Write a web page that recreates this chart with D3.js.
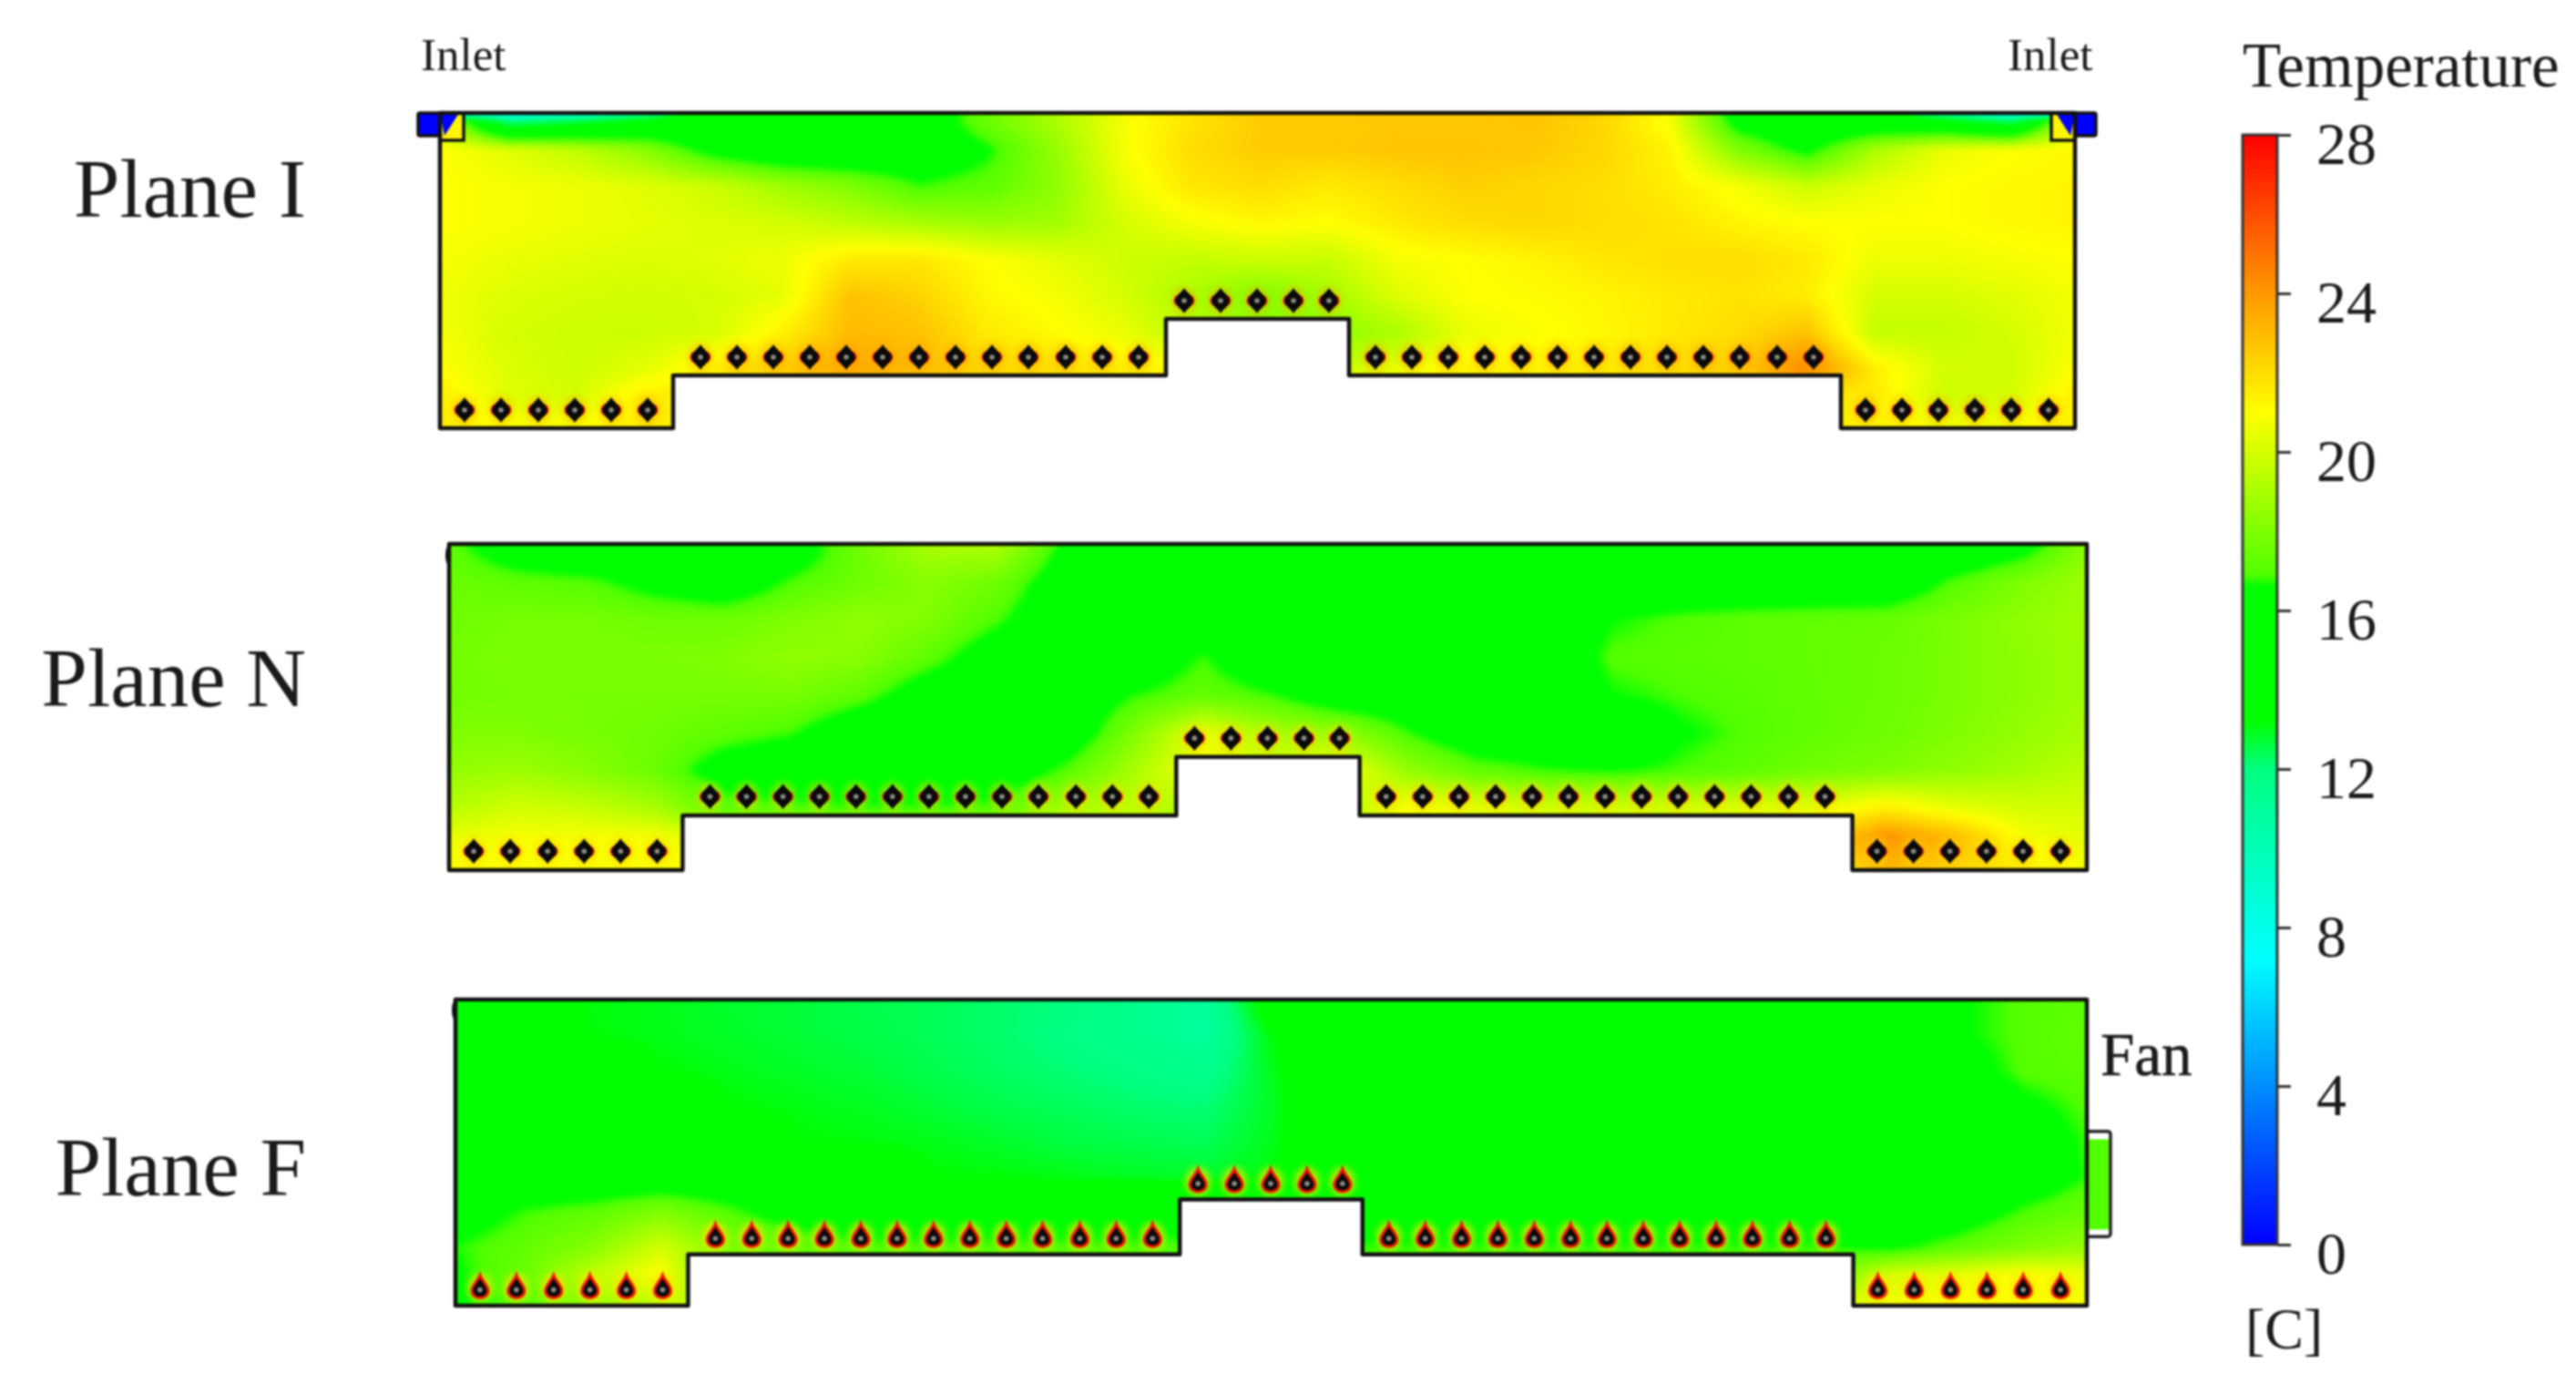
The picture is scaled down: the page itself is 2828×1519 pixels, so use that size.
<!DOCTYPE html>
<html>
<head>
<meta charset="utf-8">
<script src="https://d3js.org/d3.v7.min.js"></script>
<style>
  html, body { margin: 0; background: #fff; }
  #wrap { position: relative; width: 2828px; height: 1519px; overflow: hidden; }
  canvas, svg { position: absolute; left: 0; top: 0; }
  svg { filter: blur(0.8px); }
  text { font-family: "Liberation Serif", serif; fill: #1a1a1a; }
</style>
</head>
<body>
<div id="wrap">
  <canvas id="field" width="2828" height="1519"></canvas>
  <svg id="chart" width="2828" height="1519"></svg>
</div>
<script>
;(function (d3) {
  var planeLabels = ['Plane I', 'Plane N', 'Plane F']
  var colourTitle = 'Temperature'
  var colourUnit = '[C]'
  var colourTicks = [0, 4, 8, 12, 16, 20, 24, 28]

  // room section in metres, y measured down from the ceiling
  var roomWidth = 17.95
  var roomHeight = 3.46
  var outlineX = [0, 0, 2.56, 2.56, 7.97, 7.97, 9.98, 9.98, 15.38, 15.38, 17.95, 17.95]
  var outlineY = [0, 3.46, 3.46, 2.88, 2.88, 2.26, 2.26, 2.88, 2.88, 3.46, 3.46, 0]

  var tubesLowLeft = [0.27, 0.67, 1.08, 1.48, 1.88, 2.28]
  var tubesMidLeft = [2.86, 3.26, 3.66, 4.06, 4.46, 4.86, 5.26, 5.66, 6.06, 6.46, 6.87, 7.27, 7.67]
  var tubesRaised = [8.17, 8.57, 8.97, 9.37, 9.76]
  var tubesMidRight = [10.27, 10.67, 11.07, 11.47, 11.87, 12.27, 12.67, 13.07, 13.47, 13.87, 14.27, 14.68, 15.08]
  var tubesLowRight = [15.65, 16.05, 16.45, 16.85, 17.25, 17.66]
  var tubeDepths = [3.26, 2.68, 2.06, 2.68, 3.26]

  // sample positions of the temperature grids
  var gridX = [0, 0.75, 1.5, 2.25, 3, 3.75, 4.5, 5.25, 6, 6.75, 7.5, 8.25, 9, 9.75, 10.5, 11.25, 12, 12.75, 13.5, 14.25, 15, 15.75, 16.5, 17.25, 18]
  var gridY = [0, 0.1, 0.4, 0.8, 1.2, 1.6, 2, 2.4, 2.8, 3.1, 3.46]

  var tempsI = [
    [9, 8, 9, 11, 15, 15, 15, 15.5, 17.5, 19, 20.8, 21.8, 22.5, 22.5, 22.6, 22.6, 22.7, 22.2, 21, 15.5, 15, 14.5, 11, 8.5, 8],
    [20, 12, 13, 14.5, 15, 15, 15, 15.5, 17.5, 19, 20.8, 21.8, 22.5, 22.5, 22.6, 22.6, 22.7, 22.2, 20.8, 16, 15, 15, 14.5, 12.5, 21],
    [21, 20.3, 19.5, 18.2, 16, 15, 15, 15.5, 16.5, 18.5, 20.8, 22, 22.5, 22.5, 22.7, 22.7, 22.6, 22.2, 21.3, 18, 16.2, 19, 20.5, 21, 21.2],
    [21, 20.8, 20.6, 20.3, 19.8, 18.8, 18, 16.8, 17.2, 18.3, 20.5, 21.7, 22, 21.6, 22, 22.4, 22.2, 22, 21.5, 20.8, 19.8, 20.5, 21, 21.2, 21.3],
    [21, 20.8, 20.6, 20.4, 20.2, 20, 19.5, 19, 18.6, 18.8, 20, 20.8, 21.2, 21, 21.6, 22, 22.2, 22, 21.8, 21.3, 21, 21, 21, 21.2, 21.3],
    [20.8, 20.5, 20.3, 20.2, 20.3, 20.6, 21.6, 21.7, 21, 20.4, 19.8, 19.6, 19.8, 19.7, 20.8, 21, 21.3, 21.7, 21.9, 22, 21.6, 20.6, 20.6, 20.8, 21],
    [20.7, 20.2, 20, 19.9, 20, 20.4, 22.8, 22.3, 21.2, 20.8, 20, 19, 18, 18.8, 20.2, 21, 21.1, 21.3, 21.6, 21.8, 21.5, 20, 20, 20.3, 20.8],
    [20.8, 20, 19.8, 19.8, 20, 21.4, 23, 22.8, 21.6, 21.1, 20.5, 19.4, 18.6, 18.4, 19, 20.5, 20.9, 21.2, 21.6, 22, 22.8, 19.6, 19.6, 20, 20.8],
    [21, 20.2, 19.8, 20.4, 21.5, 22.5, 23.6, 23, 22.2, 22, 21.5, 21, 20, 19.5, 20.5, 21.3, 21.3, 21.6, 22, 22.5, 24.5, 21.5, 20, 19.9, 21],
    [21.5, 20.2, 20, 21.5, 21.5, 21.5, 21.5, 21.5, 21.5, 21.5, 21.5, 21.5, 21.5, 21.5, 21.5, 21.5, 21.5, 21.5, 21.5, 21.5, 21.5, 21.6, 19.8, 20, 21.6],
    [21.5, 21, 21, 21.5, 21.5, 21.5, 21.5, 21.5, 21.5, 21.5, 21.5, 21.5, 21.5, 21.5, 21.5, 21.5, 21.5, 21.5, 21.5, 21.5, 21.5, 21.3, 20.8, 20.8, 21.5]
  ]

  var tempsN = [
    [17.2, 15.5, 15.5, 15.5, 15.5, 16, 17.7, 19, 19.2, 16.5, 15.5, 15.5, 15.5, 15.5, 15.5, 15.5, 15.5, 15.5, 15.5, 15.5, 15.5, 15.5, 15.5, 16, 18.5],
    [17.2, 16, 15.5, 15.5, 15.5, 16, 17.6, 18.8, 18.8, 16.2, 15.5, 15.5, 15.5, 15.5, 15.5, 15.5, 15.5, 15.5, 15.5, 15.5, 15.5, 15.5, 15.5, 16.5, 18.5],
    [17.5, 17.2, 17, 16.2, 15.5, 16.9, 17.6, 18.2, 17.6, 15.8, 15.5, 15.5, 15.5, 15.5, 15.5, 15.5, 15.5, 15.5, 15.5, 15.5, 15.5, 15.5, 17, 18, 18.8],
    [17.6, 17.8, 17.8, 17.6, 17.6, 18, 18.4, 18, 16.9, 15.5, 15.5, 15.5, 15.5, 15.5, 15.5, 15.5, 15.5, 16.6, 17, 17.2, 17.3, 17.4, 17.9, 18.4, 18.8],
    [17.7, 17.9, 17.9, 17.9, 18, 18.4, 18.2, 17.2, 15.8, 15.5, 15.5, 16.8, 15.5, 15.5, 15.5, 15.5, 15.5, 17, 17.1, 17.2, 17.3, 17.5, 17.9, 18.3, 18.8],
    [17.7, 17.8, 17.8, 17.8, 17.8, 17.8, 17.2, 15.8, 15.5, 15.5, 16.7, 17.3, 16.8, 15.5, 15.5, 15.5, 15.5, 16.6, 16.9, 17.1, 17.3, 17.5, 17.9, 18.3, 18.8],
    [18, 18, 17.8, 17.6, 17.2, 16.8, 15.5, 15.5, 15.5, 15.5, 18, 20.5, 19, 18.5, 16.8, 15.5, 15.5, 15.5, 16.5, 17, 17.3, 17.6, 18, 18.5, 19],
    [18.5, 18.7, 18.2, 17.5, 16, 15.5, 15.5, 15.5, 15.5, 17, 19, 21, 20, 21, 18.5, 17.3, 16.8, 16.6, 16.9, 17.2, 17.7, 18, 18.4, 18.9, 19.5],
    [19.3, 20, 19.7, 19, 17.2, 17, 16.8, 16.8, 17, 19, 19.5, 19, 19, 19, 21, 20.5, 20, 20, 20, 20.3, 20.5, 21.5, 20.5, 20, 20],
    [20.5, 20.8, 20.8, 20.8, 20, 20, 20, 20, 20, 20, 20, 20, 20, 20, 20, 20, 20, 20, 20, 20, 22, 24.2, 23, 20.8, 20.3],
    [21, 21, 21, 21, 21, 21, 21, 21, 21, 21, 21, 21, 21, 21, 21, 21, 21, 21, 21, 21, 21, 23, 22.2, 21.5, 20.8]
  ]

  var tempsF = [
    [16, 14, 13.1, 13, 12.8, 12.7, 12.5, 12.4, 12.2, 12, 11.5, 11, 14, 15, 15.5, 15.5, 15.5, 15.5, 15.5, 15.5, 15.5, 15.5, 16.5, 17, 17.2],
    [16, 14, 13.1, 13, 12.8, 12.7, 12.5, 12.4, 12.2, 12, 11.5, 11, 13.8, 15, 15.5, 15.5, 15.5, 15.5, 15.5, 15.5, 15.5, 15.5, 16.5, 17, 17.2],
    [16, 14, 13.15, 13, 12.85, 12.7, 12.55, 12.4, 12.2, 11.9, 11.5, 11, 13.2, 14.8, 15.5, 15.5, 15.5, 15.5, 15.5, 15.5, 15.5, 15.5, 16.5, 17, 17.3],
    [16, 14.5, 14, 13.2, 13, 12.85, 12.7, 12.5, 12.3, 12.1, 11.9, 11.6, 13, 14.5, 15.5, 15.5, 15.5, 15.5, 15.5, 15.5, 15.5, 15.5, 16, 17, 17.2],
    [16, 15, 15, 14, 13.2, 13.05, 12.9, 12.7, 12.5, 12.35, 12.2, 12.1, 12.9, 14.5, 15.5, 15.5, 15.5, 15.5, 15.5, 15.5, 15.5, 15.5, 15.5, 16.4, 17],
    [16, 15.5, 15.5, 15.5, 14, 13.2, 13.1, 13, 12.8, 12.6, 12.5, 12.4, 13, 14.5, 15.5, 15.5, 15.5, 15.5, 15.5, 15.5, 15.5, 15.5, 15.5, 15.8, 16.9],
    [16, 15.5, 15.5, 15.5, 15.5, 15.5, 14, 13.2, 13.15, 13, 12.9, 12.8, 13.1, 14.5, 15.5, 15.5, 15.5, 15.5, 15.5, 15.5, 15.5, 15.5, 15.5, 15.8, 16.8],
    [16, 16.8, 17.2, 18, 17, 16, 15.5, 15.5, 15.5, 15.5, 15.5, 16.2, 17.5, 16, 15.5, 15.5, 15.5, 15.5, 15.5, 15.5, 15.5, 15.5, 15.8, 16.9, 17.5],
    [16.7, 17.3, 18.2, 20, 18, 17.5, 17, 17, 17, 17, 17, 17, 17, 16.8, 16.8, 16.8, 16.8, 16.8, 16.8, 16.8, 16.8, 16.4, 17.2, 18, 18.6],
    [16.5, 17.5, 19.5, 21, 17, 17, 17, 17, 17, 17, 17, 17, 17, 17, 17, 17, 17, 17, 17, 17, 17, 20, 20.5, 21, 20.5],
    [16.5, 17, 18.5, 19.5, 20, 20, 20, 20, 20, 20, 20, 20, 20, 20, 20, 20, 20, 20, 20, 20, 20, 20.8, 21, 21, 20.8]
  ]

  var inletTemp = 0
  var fanTemp = 16.9

  // colour bar
  var colourStops = [0, 7.2, 12, 13.2, 16.6, 16.9, 21, 24, 28]
  var colourValues = ['#0000ff', '#00ffff', '#00ff80', '#00ff00', '#00ff00', '#50ff00', '#ffff00', '#ff9900', '#ff0000']

  var colour = d3.scaleLinear().domain(colourStops).range(colourValues).clamp(true)

  // layout of the three sections on the page
  var frames = [
    {x0: 483, x1: 2278, y0: 124, y1: 470, temps: tempsI, glow: '#ffa000', glowOp: 0.4, ring: 0, drop: false},
    {x0: 493, x1: 2291, y0: 597, y1: 955, temps: tempsN, glow: '#ffd000', glowOp: 0.5, ring: 0, drop: false},
    {x0: 500, x1: 2291, y0: 1097, y1: 1433, temps: tempsF, glow: '#ffe000', glowOp: 0.7, ring: 3, drop: true}
  ]
  var labelBaselines = [238, 775, 1312]

  var lut = d3.range(0, 2801).map(function (i) {
    return d3.rgb(colour(i / 100))
  })

  var colIndex = d3.scaleLinear().domain(gridX).range(gridX.map(function (d, i) { return i })).clamp(true)
  var rowIndex = d3.scaleLinear().domain(gridY).range(gridY.map(function (d, i) { return i })).clamp(true)

  function tempAt (temps, mx, my) {
    var cf = colIndex(mx)
    var rf = rowIndex(my)
    var c = Math.min(Math.floor(cf), gridX.length - 2)
    var r = Math.min(Math.floor(rf), gridY.length - 2)
    var u = cf - c
    var v = rf - r
    return (temps[r][c] * (1 - u) + temps[r][c + 1] * u) * (1 - v) +
      (temps[r + 1][c] * (1 - u) + temps[r + 1][c + 1] * u) * v
  }

  var outline = outlineX.map(function (d, i) { return [d, outlineY[i]] })
  var ctx = document.getElementById('field').getContext('2d')

  var svg = d3.select('#chart')
  var defs = svg.append('defs')
  defs.append('filter').attr('id', 'soft')
    .attr('x', '-60%').attr('y', '-60%').attr('width', '220%').attr('height', '220%')
    .append('feGaussianBlur').attr('stdDeviation', 3.5)

  var tubeGroups = [tubesLowLeft, tubesMidLeft, tubesRaised, tubesMidRight, tubesLowRight]
  var tubes = []
  tubeGroups.forEach(function (xs, g) {
    xs.forEach(function (x) { tubes.push({x: x, y: tubeDepths[g]}) })
  })

  var diamond = 'M0,-14 C2,-10 10,-5 10,0 C10,5 2,10 0,14 C-2,10 -10,5 -10,0 C-10,-5 -2,-10 0,-14Z'
  var drop = 'M0,-14 C2,-8 9,-3 9,3 C9,8 5,11 0,11 C-5,11 -9,8 -9,3 C-9,-3 -2,-8 0,-14Z'

  frames.forEach(function (f, p) {
    var x = d3.scaleLinear().domain([0, roomWidth]).range([f.x0, f.x1])
    var y = d3.scaleLinear().domain([0, roomHeight]).range([f.y0, f.y1])

    // heat field, painted off screen then clipped to the room
    var pad = 24
    var w = f.x1 - f.x0 + pad * 2
    var h = f.y1 - f.y0 + pad * 2
    var off = document.createElement('canvas')
    off.width = w
    off.height = h
    var octx = off.getContext('2d')
    var img = octx.createImageData(w, h)
    for (var j = 0; j < h; j++) {
      var my = y.invert(f.y0 - pad + j)
      for (var i = 0; i < w; i++) {
        var t = tempAt(f.temps, x.invert(f.x0 - pad + i), my)
        var c = lut[Math.max(0, Math.min(2800, Math.round(t * 100)))]
        var k = (j * w + i) * 4
        img.data[k] = c.r
        img.data[k + 1] = c.g
        img.data[k + 2] = c.b
        img.data[k + 3] = 255
      }
    }
    octx.putImageData(img, 0, 0)

    ctx.save()
    ctx.beginPath()
    d3.line().x(function (d) { return x(d[0]) }).y(function (d) { return y(d[1]) }).context(ctx)(outline)
    ctx.closePath()
    ctx.clip()
    ctx.filter = 'blur(3px)'
    ctx.drawImage(off, f.x0 - pad, f.y0 - pad)
    ctx.restore()

    var g = svg.append('g').attr('class', 'plane')

    g.append('g').selectAll('ellipse')
      .data(tubes)
      .enter()
      .append('ellipse')
      .attr('cx', function (d) { return x(d.x) })
      .attr('cy', function (d) { return y(d.y) })
      .attr('rx', 14)
      .attr('ry', 16)
      .attr('fill', f.glow)
      .attr('opacity', f.glowOp)
      .attr('filter', 'url(#soft)')

    var tube = g.append('g').selectAll('g')
      .data(tubes)
      .enter()
      .append('g')
      .attr('transform', function (d) { return 'translate(' + x(d.x) + ',' + y(d.y) + ')' })

    if (!f.drop) {
      tube.append('ellipse')
        .attr('rx', 11.5)
        .attr('ry', 8)
        .attr('fill', '#f01800')
    }
    tube.append('path')
      .attr('d', f.drop ? drop : diamond)
      .attr('fill', '#0a0a0a')
      .attr('stroke', f.drop ? '#f01800' : 'none')
      .attr('stroke-width', f.ring)
    tube.append('circle')
      .attr('r', 2.8)
      .attr('cy', f.drop ? 2 : 0)
      .attr('fill', '#8c8c8c')

    if (p === 0) {
      // supply slots at both ends of the ceiling
      var box = [[0, 0.26], [roomWidth - 0.26, roomWidth]]
      var slot = [[-0.24, 0], [roomWidth, roomWidth + 0.23]]
      var wedge = [[[0, 0], [0.21, 0], [0.05, 0.25]], [[roomWidth, 0], [roomWidth - 0.21, 0], [roomWidth - 0.05, 0.25]]]
      g.selectAll('rect.box').data(box).enter().append('rect')
        .attr('class', 'box')
        .attr('x', function (d) { return x(d[0]) })
        .attr('y', y(0))
        .attr('width', function (d) { return x(d[1]) - x(d[0]) })
        .attr('height', y(0.3) - y(0))
        .attr('fill', colour(21.3))
        .attr('stroke', '#111')
        .attr('stroke-width', 3.5)
      g.selectAll('path.wedge').data(wedge).enter().append('path')
        .attr('class', 'wedge')
        .attr('d', d3.line().x(function (d) { return x(d[0]) }).y(function (d) { return y(d[1]) }).curve(d3.curveLinearClosed))
        .attr('fill', colour(inletTemp))
      g.selectAll('rect.slot').data(slot).enter().append('rect')
        .attr('class', 'slot')
        .attr('x', function (d) { return x(d[0]) })
        .attr('y', y(0))
        .attr('width', function (d) { return x(d[1]) - x(d[0]) })
        .attr('height', y(0.25) - y(0))
        .attr('rx', 2)
        .attr('fill', colour(inletTemp))
        .attr('stroke', '#111')
        .attr('stroke-width', 3.5)
    }

    if (p === 2) {
      var fan = g.append('g')
      fan.append('rect')
        .attr('x', x(roomWidth))
        .attr('y', y(1.49))
        .attr('width', x(0.26) - x(0))
        .attr('height', y(2.68) - y(1.49))
        .attr('rx', 3)
        .attr('fill', '#fff')
        .attr('stroke', '#222')
        .attr('stroke-width', 3.5)
      fan.append('rect')
        .attr('x', x(roomWidth) + 2)
        .attr('y', y(1.58))
        .attr('width', x(0.26) - x(0) - 4)
        .attr('height', y(2.6) - y(1.58))
        .attr('fill', colour(fanTemp))
    }

    g.append('path')
      .datum(outline)
      .attr('d', d3.line().x(function (d) { return x(d[0]) }).y(function (d) { return y(d[1]) }).curve(d3.curveLinearClosed))
      .attr('fill', 'none')
      .attr('stroke', '#111')
      .attr('stroke-width', 4.5)
      .attr('stroke-linejoin', 'round')

    // small bump on the wall just under the ceiling
    if (p > 0) {
      g.append('ellipse')
        .attr('cx', x(0) - 1)
        .attr('cy', y(0.12))
        .attr('rx', 3)
        .attr('ry', 10)
        .attr('fill', '#111')
    }

    svg.append('text')
      .attr('x', 336)
      .attr('y', labelBaselines[p])
      .attr('text-anchor', 'end')
      .attr('font-size', 91)
      .text(planeLabels[p])
  })

  svg.append('text').attr('x', 462).attr('y', 77).attr('font-size', 51).text('Inlet')
  svg.append('text').attr('x', 2204).attr('y', 77).attr('font-size', 51).text('Inlet')
  svg.append('text').attr('x', 2306).attr('y', 1180).attr('font-size', 67)
    .attr('stroke', '#1a1a1a').attr('stroke-width', 0.7).text('Fan')

  // colour bar
  var barY = d3.scaleLinear().domain([0, 28]).range([1366, 148])
  var grad = defs.append('linearGradient')
    .attr('id', 'bar')
    .attr('x1', 0).attr('y1', 1).attr('x2', 0).attr('y2', 0)
  grad.selectAll('stop')
    .data(colourStops)
    .enter()
    .append('stop')
    .attr('offset', function (d) { return d / 28 })
    .attr('stop-color', function (d) { return colour(d) })

  svg.append('rect')
    .attr('x', 2462)
    .attr('y', barY(28))
    .attr('width', 38)
    .attr('height', barY(0) - barY(28))
    .attr('fill', 'url(#bar)')
    .attr('stroke', '#333')
    .attr('stroke-width', 3)

  var axis = svg.append('g')
    .attr('transform', 'translate(2500,0)')
    .call(d3.axisRight(barY).tickValues(colourTicks).tickSize(15).tickPadding(28).tickFormat(d3.format('d')))
  axis.select('.domain').remove()
  axis.selectAll('line').attr('stroke', '#333').attr('stroke-width', 3)
  axis.selectAll('text')
    .attr('dy', 31)
    .attr('font-size', 66)
    .style('font-family', '"Liberation Serif", serif')
    .attr('fill', '#1a1a1a')

  svg.append('text').attr('x', 2462).attr('y', 95).attr('font-size', 69).text(colourTitle)
  svg.append('text').attr('x', 2465).attr('y', 1480).attr('font-size', 64).text(colourUnit)
})(window.d3)
</script>
</body>
</html>
